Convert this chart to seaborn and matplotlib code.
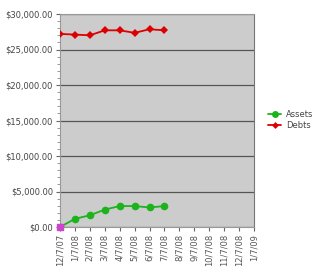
import matplotlib
matplotlib.use("Agg")
import matplotlib.pyplot as plt
import seaborn as sns
import pandas as pd
from matplotlib.ticker import MultipleLocator, FuncFormatter
from matplotlib.lines import Line2D

dates = ["12/7/07", "1/7/08", "2/7/08", "3/7/08", "4/7/08", "5/7/08", "6/7/08",
         "7/7/08", "8/7/08", "9/7/08", "10/7/08", "11/7/08", "12/7/08", "1/7/09"]
assets = [0, 1150, 1650, 2450, 2950, 2950, 2750, 2950]
debts = [27200, 27100, 27000, 27700, 27700, 27350, 27850, 27700]

sns.set_theme(style="white")
plt.rcParams['font.family'] = ['DejaVu Sans']

fig = plt.figure(figsize=(3.2, 2.76), dpi=100)
ax = fig.add_axes([60/320, 1-227/276, 194/320, 213/276])
ax.set_facecolor("#cccccc")

green = "#1db31d"
red = "#dd0000"
df_a = pd.DataFrame({"x": range(len(assets)), "value": assets})
df_d = pd.DataFrame({"x": range(len(debts)), "value": debts})
sns.lineplot(data=df_a, x="x", y="value", color=green, marker="o", markersize=5.5,
             markeredgewidth=0, linewidth=1.3, ax=ax, zorder=3)
sns.lineplot(data=df_d, x="x", y="value", color=red, marker="D", markersize=3.6,
             markeredgewidth=0, linewidth=1.3, ax=ax, zorder=3)
# first asset point drawn as a magenta square
ax.scatter([0], [assets[0]], marker="s", s=16, color="#cc44cc", zorder=4, clip_on=False)

n = len(dates)
ax.set_xlim(0, n - 1)
ax.set_ylim(0, 30000)
ax.set_xticks(range(n))
ax.set_xticklabels(dates, rotation=90, fontsize=6, color="#555555")
ax.yaxis.set_major_locator(MultipleLocator(5000))
ax.yaxis.set_minor_locator(MultipleLocator(1000))
ax.yaxis.set_major_formatter(FuncFormatter(lambda v, p: f"${v:,.2f}"))
for lbl in ax.get_yticklabels():
    lbl.set_fontsize(6)
    lbl.set_color("#444444")
ax.tick_params(axis="y", which="major", length=3, width=0.8, color="#666666", pad=2, left=True)
ax.tick_params(axis="y", which="minor", length=2, width=0.6, color="#888888", left=True)
ax.tick_params(axis="x", length=3, width=0.8, color="#666666", pad=2, bottom=True)
ax.grid(axis="y", which="major", color="#555555", linewidth=0.9)
ax.set_axisbelow(True)
ax.set_xlabel("")
ax.set_ylabel("")
for side in ["top", "right", "left", "bottom"]:
    ax.spines[side].set_color("#999999")
    ax.spines[side].set_linewidth(0.8)
ax.spines["right"].set_color("#777777")

handles = [Line2D([], [], color=green, marker="o", markersize=5, markeredgewidth=0, linewidth=1.3),
           Line2D([], [], color=red, marker="D", markersize=3.5, markeredgewidth=0, linewidth=1.3)]
fig.legend(handles, ["Assets", "Debts"], loc="center left", bbox_to_anchor=(268/320, 1-120/276),
           frameon=False, fontsize=6, handlelength=1.6, handletextpad=0.6, labelspacing=0.15,
           labelcolor="#444444", borderpad=0, borderaxespad=0)

fig.savefig("out.png", dpi=100)
